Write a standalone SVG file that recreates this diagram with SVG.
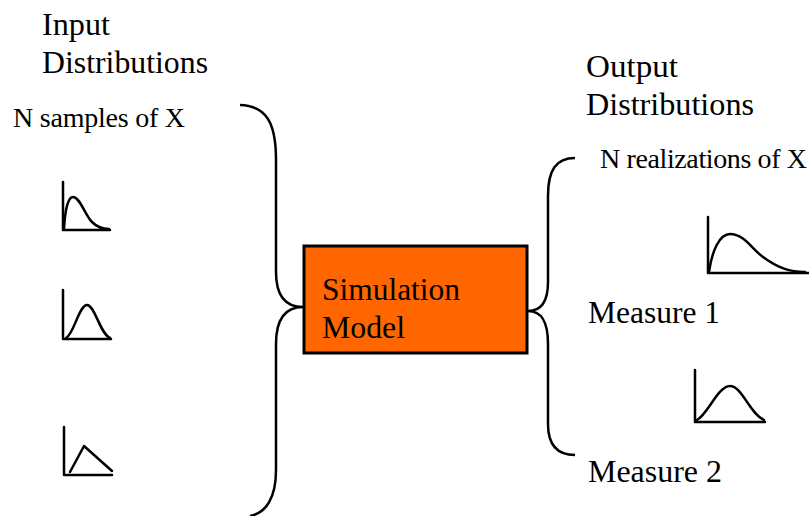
<svg xmlns="http://www.w3.org/2000/svg" width="809" height="516" viewBox="0 0 809 516">
<style>
text{font-family:'Liberation Serif','Times New Roman',Times,serif;fill:#000}
.big{font-size:31px}
.small{font-size:28px}
.ln{fill:none;stroke:#000;stroke-width:2.5;stroke-linecap:round;stroke-linejoin:round}
.br{fill:none;stroke:#000;stroke-width:2.5}
</style>
<rect width="809" height="516" fill="#fff"/>
<g id="input-title">
<text class="big" font-family="Liberation Serif" x="42" y="35" textLength="68" lengthAdjust="spacingAndGlyphs">Input</text>
<text class="big" font-family="Liberation Serif" x="42" y="73" textLength="166" lengthAdjust="spacingAndGlyphs">Distributions</text>
</g>
<g id="input-samples">
<text class="small" font-family="Liberation Serif" x="13" y="127" textLength="172" lengthAdjust="spacing">N samples of X</text>
</g>
<g id="input-dist-1">
<path class="ln" d="M63 182 L63 230 L110 230"/>
<path class="ln" d="M64 229 C65 210 68 197 73 197 C80 197 85 215 92 222 C98 228 103 229 109 229"/>
</g>
<g id="input-dist-2">
<path class="ln" d="M63 290 L63 339 L111 339"/>
<path class="ln" d="M66 338 C74 334 79 305 87 305 C95 305 100 334 110 338"/>
</g>
<g id="input-dist-3">
<path class="ln" d="M64 427 L64 475 L112 475"/>
<path class="ln" d="M70 472 L84 446 L112 471"/>
</g>
<g id="simulation-model">
<rect x="304" y="246" width="223" height="107" fill="#FF6600" stroke="#000" stroke-width="3"/>
<text class="big" font-family="Liberation Serif" x="322" y="300" textLength="138" lengthAdjust="spacingAndGlyphs">Simulation</text>
<text class="big" font-family="Liberation Serif" x="322" y="338" textLength="83" lengthAdjust="spacingAndGlyphs">Model</text>
</g>
<g id="output-title">
<text class="big" font-family="Liberation Serif" x="586" y="77" textLength="92" lengthAdjust="spacingAndGlyphs">Output</text>
<text class="big" font-family="Liberation Serif" x="586" y="115" textLength="168" lengthAdjust="spacingAndGlyphs">Distributions</text>
</g>
<g id="output-realizations">
<text class="small" font-family="Liberation Serif" x="600" y="168" textLength="207" lengthAdjust="spacing">N realizations of X</text>
</g>
<g id="output-dist-1">
<path class="ln" d="M708 217 L708 273 L809 273"/>
<path class="ln" d="M709 272 C712 250 720 234 730 234 C744 234 752 249 763 257 C778 268 790 272 805 272"/>
</g>
<g id="measure-1">
<text class="big" font-family="Liberation Serif" x="588" y="323" textLength="132" lengthAdjust="spacingAndGlyphs">Measure 1</text>
</g>
<g id="output-dist-2">
<path class="ln" d="M695 370 L695 422 L765 422"/>
<path class="ln" d="M697 420 C708 414 718 386 730 386 C742 386 750 414 764 420"/>
</g>
<g id="measure-2">
<text class="big" font-family="Liberation Serif" x="588" y="482" textLength="134" lengthAdjust="spacingAndGlyphs">Measure 2</text>
</g>
<g id="connectors">
<path class="br" d="M240 105 C266 106 276 122 276 160 L276 272 C276 294 284 307 303 307 C284 307 276 320 276 344 L276 470 C276 498 266 513 250 516"/>
<path class="br" d="M575 158 C556 158 548 170 548 196 L548 282 C548 300 542 311 528 311 C542 311 548 322 548 344 L548 424 C548 444 556 455 575 455"/>
</g>
</svg>
